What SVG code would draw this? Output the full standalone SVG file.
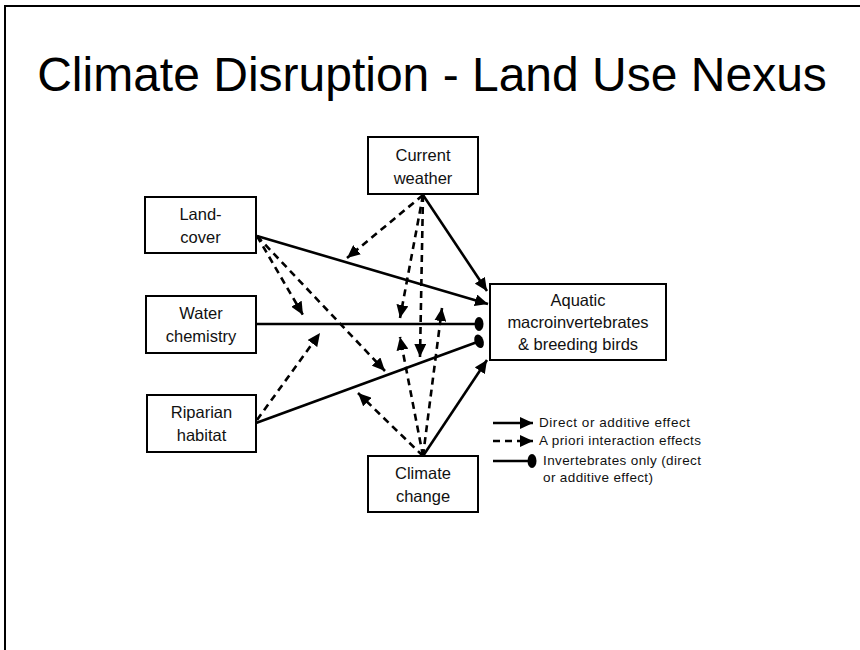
<svg xmlns="http://www.w3.org/2000/svg" width="860" height="650" viewBox="0 0 860 650">
<style>
  .box{fill:#fff;stroke:#000;stroke-width:2}
  .lbl{font-family:"Liberation Sans",Arial,sans-serif;font-size:16.5px;fill:#111;text-anchor:middle}
  .title{font-family:"Liberation Sans",Arial,sans-serif;font-size:48px;fill:#000;text-anchor:middle}
  .leg{font-family:"Liberation Sans",Arial,sans-serif;font-size:13.5px;fill:#111}
  .solid{fill:none;stroke:#000;stroke-width:2.6}
  .dash{fill:none;stroke:#000;stroke-width:2.6;stroke-dasharray:7,5}
  .frame{fill:none;stroke:#000;stroke-width:2}
</style>
<defs>
  <marker id="arr" markerUnits="userSpaceOnUse" markerWidth="14" markerHeight="12" refX="13" refY="6" orient="auto">
    <path d="M0,0 L13,6 L0,12 z" fill="#000"/>
  </marker>
  <marker id="oval" markerUnits="userSpaceOnUse" markerWidth="10" markerHeight="16" refX="6" refY="8" orient="auto">
    <ellipse cx="5" cy="8" rx="4.5" ry="7" fill="#000"/>
  </marker>
</defs>
<rect width="860" height="650" fill="#fff"/>
<path class="frame" d="M5,650 L5,6 L860,6"/>
<text class="title" x="432" y="91">Climate Disruption - Land Use Nexus</text>

<g id="connectors">
  <path class="solid" d="M257,236 L488,304" marker-end="url(#arr)"/>
  <path class="solid" d="M423,195 L487,291" marker-end="url(#arr)"/>
  <path class="solid" d="M256,324 L480,324" marker-end="url(#oval)"/>
  <path class="solid" d="M256,423 L480,341" marker-end="url(#oval)"/>
  <path class="solid" d="M423,456 L487,360" marker-end="url(#arr)"/>
  <path class="dash" d="M423,195 L347,258" marker-end="url(#arr)"/>
  <path class="dash" d="M423,195 L400,318" marker-end="url(#arr)"/>
  <path class="dash" d="M423,195 L420,357" marker-end="url(#arr)"/>
  <path class="dash" d="M257,236 L303,315" marker-end="url(#arr)"/>
  <path class="dash" d="M257,236 L385,371" marker-end="url(#arr)"/>
  <path class="dash" d="M257,420 L320,333" marker-end="url(#arr)"/>
  <path class="dash" d="M423,456 L358,393" marker-end="url(#arr)"/>
  <path class="dash" d="M423,456 L400,337" marker-end="url(#arr)"/>
  <path class="dash" d="M423,456 L442,308" marker-end="url(#arr)"/>
</g>

<g id="current-weather">
  <rect class="box" x="368" y="137" width="110" height="57"/>
  <text class="lbl" x="423" y="161">Current</text>
  <text class="lbl" x="423" y="184">weather</text>
</g>
<g id="land-cover">
  <rect class="box" x="145" y="197" width="111" height="56"/>
  <text class="lbl" x="200.5" y="220">Land-</text>
  <text class="lbl" x="200.5" y="243">cover</text>
</g>
<g id="water-chemistry">
  <rect class="box" x="146" y="296" width="110" height="57"/>
  <text class="lbl" x="201" y="319">Water</text>
  <text class="lbl" x="201" y="342">chemistry</text>
</g>
<g id="riparian-habitat">
  <rect class="box" x="147" y="395" width="109" height="57"/>
  <text class="lbl" x="201.5" y="418">Riparian</text>
  <text class="lbl" x="201.5" y="441">habitat</text>
</g>
<g id="climate-change">
  <rect class="box" x="368" y="456" width="110" height="56"/>
  <text class="lbl" x="423" y="479">Climate</text>
  <text class="lbl" x="423" y="502">change</text>
</g>
<g id="aquatic">
  <rect class="box" x="490" y="284" width="176" height="76"/>
  <text class="lbl" x="578" y="306">Aquatic</text>
  <text class="lbl" x="578" y="328">macroinvertebrates</text>
  <text class="lbl" x="578" y="350">&amp; breeding birds</text>
</g>

<g id="legend">
  <path class="solid" d="M493,423 L533,423" marker-end="url(#arr)"/>
  <path class="dash" d="M493,441 L533,441" marker-end="url(#arr)"/>
  <path class="solid" d="M493,461 L533,461" marker-end="url(#oval)"/>
  <text class="leg" x="539" y="427" textLength="151">Direct or additive effect</text>
  <text class="leg" x="539" y="445" textLength="162">A priori interaction effects</text>
  <text class="leg" x="543" y="465" textLength="158">Invertebrates  only (direct</text>
  <text class="leg" x="543" y="482" textLength="110">or additive  effect)</text>
</g>
</svg>
